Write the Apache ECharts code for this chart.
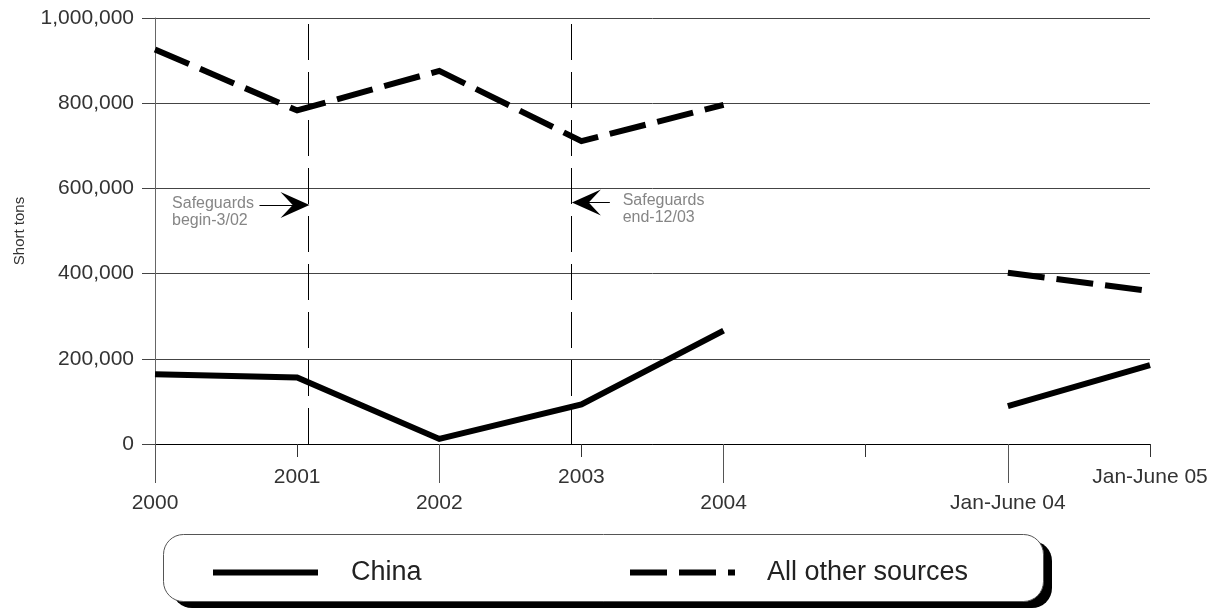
<!DOCTYPE html>
<html>
<head>
<meta charset="utf-8">
<script src="https://cdn.jsdelivr.net/npm/echarts@6/dist/echarts.min.js"></script>
<style>
  html, body { margin: 0; padding: 0; background: #fff; }
  #chart { width: 1221px; height: 610px; }
</style>
</head>
<body>
<div id="chart"></div>
<script>
// ---- data ----
var categories = ['2000', '2001', '2002', '2003', '2004', '', 'Jan-June 04', 'Jan-June 05'];
var chinaValues = [164000, 156000, 12000, 93000, 266000, null, 89000, 185000];
var otherValues = [926000, 783000, 876000, 711000, 796000, null, 402000, 359000];
var yTicks = [0, 200000, 400000, 600000, 800000, 1000000];
// annotation positions in category-index units / short tons
var safeguardLines = [1.085, 2.93];
var arrowBegin = { from: [0.735, 561000], to: [0.985, 561000] };
var arrowEnd = { from: [3.2, 567000], to: [3.035, 567000] };
var noteBegin = { pos: [0.12, 545000], text: 'Safeguards\nbegin-3/02' };
var noteEnd = { pos: [3.29, 551000], text: 'Safeguards\nend-12/03' };

var FONT = 'Liberation Sans, Arial, sans-serif';
var ARROW = 'path://M50,0 L100,100 L50,58 L0,100 Z';

function fmt(v) { return String(v).replace(/\B(?=(\d{3})+(?!\d))/g, ','); }

var chart = echarts.init(document.getElementById('chart'), null, { renderer: 'canvas' });

var option = {
  backgroundColor: '#ffffff',
  animation: false,
  grid: { left: 155, right: 71, top: 18, bottom: 166, containLabel: false, outerBoundsMode: 'none' },
  xAxis: [
    {
      type: 'category', data: categories, boundaryGap: false, position: 'bottom', offset: 0,
      axisLine: { show: true, lineStyle: { color: '#000', width: 1 } },
      axisTick: { show: true, length: 39, interval: function (i) { return i % 2 === 0; }, lineStyle: { color: '#555', width: 1 } },
      axisLabel: { show: true, interval: function (i) { return i % 2 === 0; }, margin: 49, fontSize: 21, color: '#333', fontFamily: FONT },
      splitLine: { show: false }
    },
    {
      type: 'category', data: categories, boundaryGap: false, position: 'bottom', offset: 0,
      axisLine: { show: false },
      axisTick: { show: true, length: 13, interval: function (i) { return i % 2 === 1; }, lineStyle: { color: '#333', width: 1 } },
      axisLabel: { show: true, interval: function (i) { return i % 2 === 1; }, margin: 23, fontSize: 21, color: '#333', fontFamily: FONT },
      splitLine: { show: false }
    },
    {
      type: 'value', min: 0, max: categories.length - 1, show: false, position: 'bottom'
    }
  ],
  yAxis: {
    type: 'value', min: yTicks[0], max: yTicks[yTicks.length - 1], interval: yTicks[1] - yTicks[0],
    name: 'Short tons', nameLocation: 'middle', nameGap: 128, nameRotate: 90,
    nameTextStyle: { fontSize: 15, color: '#333', fontFamily: FONT },
    axisLine: { show: true, lineStyle: { color: '#666', width: 1 } },
    axisTick: { show: true, length: 13, lineStyle: { color: '#444', width: 1 } },
    axisLabel: { margin: 21, fontSize: 21, color: '#333', fontFamily: FONT, formatter: function (v) { return fmt(v); } },
    splitLine: { show: true, lineStyle: { color: '#444', width: 1 } }
  },
  legend: [
    {
      data: ['China'], left: 210, top: 559, padding: 0, itemWidth: 105, itemHeight: 14, z: 10,
      lineStyle: { color: '#000', width: 6, type: 'solid', cap: 'butt' },
      itemStyle: { color: 'rgba(0,0,0,0)', borderColor: 'rgba(0,0,0,0)', borderWidth: 0 },
      textStyle: { fontSize: 27, color: '#222', fontFamily: FONT, padding: [0, 0, 0, 28] }
    },
    {
      data: ['All other sources'], left: 627, top: 559, padding: 0, itemWidth: 105, itemHeight: 14, z: 10,
      lineStyle: { color: '#000', width: 6, type: [37, 12], cap: 'butt' },
      itemStyle: { color: 'rgba(0,0,0,0)', borderColor: 'rgba(0,0,0,0)', borderWidth: 0 },
      textStyle: { fontSize: 27, color: '#222', fontFamily: FONT, padding: [0, 0, 0, 27] }
    }
  ],
  graphic: [
    { type: 'rect', left: 172, top: 541, z: 1, shape: { width: 880, height: 67, r: 20 }, style: { fill: '#000' } },
    { type: 'rect', left: 163, top: 534, z: 2, shape: { width: 880, height: 67, r: 20 }, style: { fill: '#fff', stroke: '#555', lineWidth: 1 } }
  ],
  series: [
    {
      name: 'China', type: 'line', xAxisIndex: 0, yAxisIndex: 0, data: chinaValues,
      symbol: 'none', connectNulls: false, z: 5,
      lineStyle: { color: '#000', width: 6, type: 'solid', join: 'miter', cap: 'butt' },
      itemStyle: { color: '#000' }
    },
    {
      name: 'All other sources', type: 'line', xAxisIndex: 0, yAxisIndex: 0, data: otherValues,
      symbol: 'none', connectNulls: false, z: 5,
      lineStyle: { color: '#000', width: 6, type: [37, 12], join: 'miter', cap: 'butt' },
      itemStyle: { color: '#000' }
    },
    {
      name: 'annotations', type: 'scatter', xAxisIndex: 2, yAxisIndex: 0,
      symbolSize: 0, silent: true, z: 6,
      data: [
        { value: noteBegin.pos, label: { formatter: noteBegin.text } },
        { value: noteEnd.pos, label: { formatter: noteEnd.text } }
      ],
      label: {
        show: true, position: 'inside', align: 'left', verticalAlign: 'middle',
        fontSize: 16, lineHeight: 17, color: '#666', fontFamily: FONT
      },
      markLine: {
        silent: true, animation: false,
        symbol: ['none', 'none'],
        label: { show: false },
        itemStyle: { color: '#000' },
        data: [
          { xAxis: safeguardLines[0], lineStyle: { color: '#000', width: 1, type: [36, 12] } },
          { xAxis: safeguardLines[1], lineStyle: { color: '#000', width: 1, type: [36, 12] } },
          [
            { coord: arrowBegin.from, symbol: 'none' },
            { coord: arrowBegin.to, symbol: ARROW, symbolSize: [26, 29], itemStyle: { color: '#000' } }
          ],
          [
            { coord: arrowEnd.from, symbol: 'none' },
            { coord: arrowEnd.to, symbol: ARROW, symbolSize: [26, 29], itemStyle: { color: '#000' } }
          ]
        ],
        lineStyle: { color: '#000', width: 1, type: 'solid' },
        emphasis: { disabled: true }
      }
    }
  ]
};

chart.setOption(option);
</script>
</body>
</html>
